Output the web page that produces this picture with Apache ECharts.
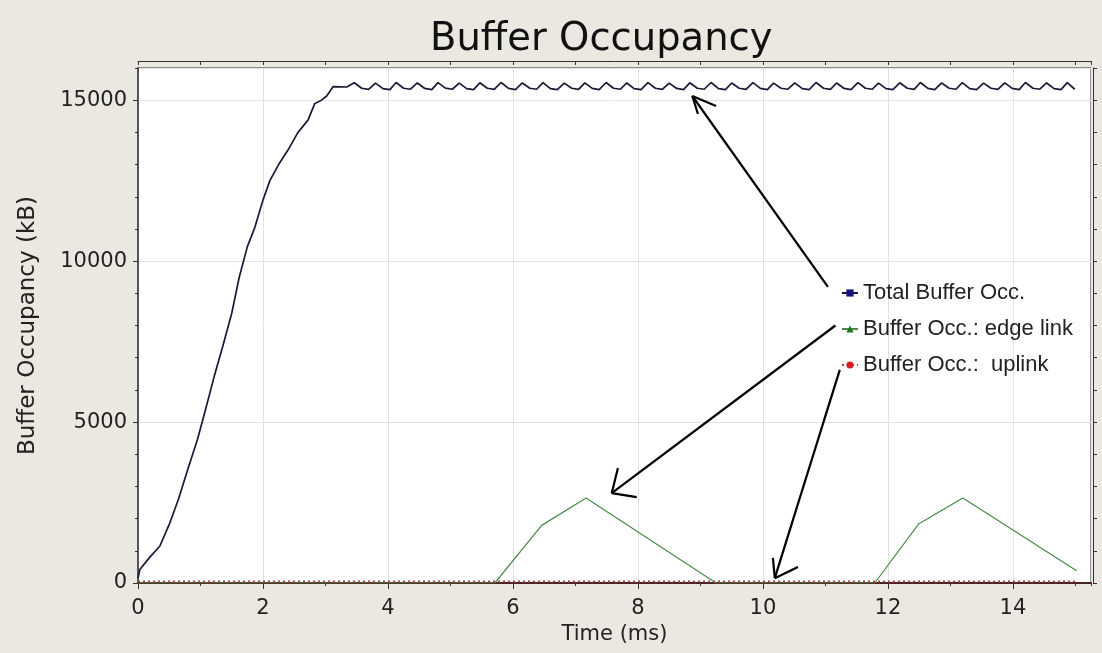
<!DOCTYPE html>
<html>
<head>
<meta charset="utf-8">
<title>Buffer Occupancy</title>
<script src="https://cdn.jsdelivr.net/npm/echarts@6/dist/echarts.min.js"></script>
<style>
  html, body { margin: 0; padding: 0; background: #ebe8e2; }
  #chart { width: 1102px; height: 653px; }
</style>
</head>
<body>
<div id="chart"></div>
<script>
// Series names as shown in the legend
const seriesNames = ['Total Buffer Occ.', 'Buffer Occ.: edge link', 'Buffer Occ.:  uplink'];

// Total buffer occupancy: [time (ms), kB]
const totalOcc = [
  [0.00, 150], [0.03, 420], [0.18, 780], [0.35, 1150], [0.50, 1820], [0.65, 2620],
  [0.80, 3550], [0.95, 4450], [1.08, 5380], [1.22, 6420], [1.36, 7380], [1.50, 8380],
  [1.62, 9500], [1.75, 10450], [1.87, 11050], [2.00, 11900], [2.11, 12500], [2.25, 13000],
  [2.40, 13450], [2.56, 14000], [2.72, 14380], [2.83, 14900], [2.92, 14980], [3.02, 15130],
  [3.12, 15420], [3.34, 15410],
  [3.46, 15540], [3.58, 15370], [3.69, 15335],
  [3.80, 15530], [3.92, 15360], [4.03, 15330],
  [4.13, 15550], [4.25, 15370], [4.36, 15340],
  [4.47, 15535], [4.59, 15365], [4.70, 15330],
  [4.80, 15545], [4.92, 15375], [5.03, 15340],
  [5.14, 15530], [5.26, 15360], [5.37, 15330],
  [5.47, 15540], [5.59, 15370], [5.70, 15335],
  [5.81, 15550], [5.93, 15365], [6.04, 15330],
  [6.15, 15535], [6.27, 15370], [6.38, 15340],
  [6.48, 15545], [6.60, 15360], [6.71, 15330],
  [6.82, 15530], [6.94, 15370], [7.05, 15335],
  [7.15, 15540], [7.27, 15365], [7.38, 15330],
  [7.49, 15550], [7.61, 15370], [7.72, 15340],
  [7.82, 15535], [7.94, 15360], [8.05, 15330],
  [8.16, 15545], [8.28, 15370], [8.39, 15335],
  [8.50, 15530], [8.62, 15365], [8.73, 15330],
  [8.83, 15540], [8.95, 15370], [9.06, 15340],
  [9.17, 15550], [9.29, 15360], [9.40, 15330],
  [9.50, 15535], [9.62, 15370], [9.73, 15335],
  [9.84, 15545], [9.96, 15365], [10.07, 15330],
  [10.17, 15530], [10.29, 15370], [10.40, 15340],
  [10.51, 15540], [10.63, 15360], [10.74, 15330],
  [10.85, 15550], [10.97, 15370], [11.08, 15335],
  [11.18, 15535], [11.30, 15365], [11.41, 15330],
  [11.52, 15545], [11.64, 15370], [11.75, 15340],
  [11.85, 15530], [11.97, 15360], [12.08, 15330],
  [12.19, 15540], [12.31, 15370], [12.42, 15335],
  [12.52, 15550], [12.64, 15365], [12.75, 15330],
  [12.86, 15535], [12.98, 15370], [13.09, 15340],
  [13.19, 15545], [13.31, 15360], [13.42, 15330],
  [13.53, 15530], [13.65, 15370], [13.76, 15335],
  [13.87, 15540], [13.99, 15365], [14.10, 15330],
  [14.20, 15550], [14.32, 15370], [14.43, 15340],
  [14.54, 15535], [14.66, 15360], [14.77, 15330],
  [14.87, 15545], [14.99, 15340]
];

// Edge-link buffer occupancy: [time (ms), kB]
const edgeOcc = [
  [0.00, 0], [5.71, 0], [6.46, 1790], [7.17, 2640], [9.25, 0],
  [11.79, 0], [12.49, 1830], [13.20, 2640], [15.02, 380]
];

// Uplink buffer occupancy: [time (ms), kB]
const uplinkOcc = [
  [0.00, 50], [2.50, 50], [5.00, 50], [7.50, 50], [10.00, 50], [12.50, 50], [15.02, 50]
];

// Annotation arrows in data space: shaft start -> tip, plus the two head strokes
const arrowShafts = [
  [[11.04, 9200], [8.87, 15130]],
  [[11.16, 8000], [7.58, 2790]],
  [[11.23, 6620], [10.19, 150]]
];
const arrowHeads = [
  [[8.87, 15130], [9.25, 14820]], [[8.87, 15130], [8.96, 14570]],
  [[7.58, 2790], [7.98, 2670]], [[7.58, 2790], [7.68, 3570]],
  [[10.19, 150], [10.56, 500]], [[10.19, 150], [10.16, 780]]
];

const X_MIN = 0, X_MAX = 15.25, Y_MIN = 0, Y_MAX = 16000;

const labelFont = 'DejaVu Sans';
const axisDark = '#333';

const chart = echarts.init(document.getElementById('chart'), null, { renderer: 'canvas' });

function plainXAxis(extra) {
  return Object.assign({
    type: 'value', min: X_MIN, max: X_MAX,
    axisLine: { show: false, onZero: false },
    axisLabel: { show: false },
    splitLine: { show: false },
    axisTick: { show: false }
  }, extra);
}
function plainYAxis(extra) {
  return Object.assign({
    type: 'value', min: Y_MIN, max: Y_MAX,
    axisLine: { show: false, onZero: false },
    axisLabel: { show: false },
    splitLine: { show: false },
    axisTick: { show: false }
  }, extra);
}

const markLines = arrowShafts.concat(arrowHeads).map(seg => [
  { coord: seg[0] }, { coord: seg[1] }
]);

const option = {
  backgroundColor: '#ebe8e2',
  animation: false,
  title: {
    text: 'Buffer Occupancy',
    left: 425, top: 15,
    textStyle: { fontFamily: labelFont, fontSize: 38.5, fontWeight: 'normal', color: '#111' }
  },
  grid: {
    left: 138, right: 11, top: 68, bottom: 70,
    show: true, backgroundColor: '#ffffff', borderColor: axisDark, borderWidth: 1
  },
  legend: {
    orient: 'vertical',
    left: 836, top: 277,
    itemWidth: 16, itemHeight: 9, itemGap: 14,
    data: seriesNames,
    textStyle: { fontFamily: 'Liberation Sans', fontSize: 22, color: '#222' }
  },
  xAxis: [
    {
      type: 'value', min: X_MIN, max: X_MAX, interval: 2, position: 'bottom',
      name: 'Time (ms)', nameLocation: 'middle', nameGap: 39,
      nameTextStyle: { fontFamily: labelFont, fontSize: 21, color: '#222' },
      axisLine: { show: true, onZero: false, lineStyle: { color: '#4a2222', width: 2 } },
      axisTick: { show: true, inside: false, length: 6, lineStyle: { color: axisDark } },
      axisLabel: { show: true, margin: 15, showMaxLabel: false,
        fontFamily: labelFont, fontSize: 21, color: '#222',
        formatter: v => String(v) },
      splitLine: { show: true, lineStyle: { color: '#e2e2e2', width: 1 } }
    },
    plainXAxis({ interval: 1, position: 'bottom',
      axisTick: { show: true, inside: false, length: 3, lineStyle: { color: axisDark } } }),
    plainXAxis({ interval: 1, position: 'top', offset: 7,
      axisLine: { show: true, onZero: false, lineStyle: { color: axisDark, width: 1 } },
      axisTick: { show: true, inside: true, length: 4, lineStyle: { color: axisDark } } })
  ],
  yAxis: [
    {
      type: 'value', min: Y_MIN, max: Y_MAX, interval: 5000, position: 'left',
      name: 'Buffer Occupancy (kB)', nameLocation: 'middle', nameGap: 98,
      nameTextStyle: { fontFamily: labelFont, fontSize: 23, color: '#222' },
      axisLine: { show: true, onZero: false, lineStyle: { color: '#555', width: 2 } },
      axisTick: { show: true, inside: false, length: 5, lineStyle: { color: axisDark } },
      axisLabel: { show: true, margin: 11, showMaxLabel: false,
        fontFamily: labelFont, fontSize: 21, color: '#222',
        formatter: v => String(v) },
      splitLine: { show: true, lineStyle: { color: '#e2e2e2', width: 1 } }
    },
    plainYAxis({ interval: 1000, position: 'left',
      axisTick: { show: true, inside: false, length: 3, lineStyle: { color: axisDark } } }),
    plainYAxis({ interval: 1000, position: 'right', offset: 2,
      axisLine: { show: true, onZero: false, lineStyle: { color: axisDark, width: 1 } },
      axisTick: { show: true, inside: false, length: 4, lineStyle: { color: axisDark } } })
  ],
  series: [
    {
      name: seriesNames[0], type: 'line', data: totalOcc,
      symbol: 'rect', symbolSize: 7, showSymbol: false,
      itemStyle: { color: '#14147a' },
      lineStyle: { color: '#1a1a36', width: 1.7 },
      z: 3,
      markLine: {
        silent: true, symbol: ['none', 'none'], animation: false,
        label: { show: false },
        lineStyle: { color: '#000', width: 2.2, type: 'solid' },
        emphasis: { disabled: true },
        data: markLines
      }
    },
    {
      name: seriesNames[1], type: 'line', data: edgeOcc,
      symbol: 'triangle', symbolSize: 9, showSymbol: false,
      itemStyle: { color: '#1f7a1f' },
      lineStyle: { color: '#4a8a4a', width: 1.2 },
      z: 2
    },
    {
      name: seriesNames[2], type: 'line', data: uplinkOcc,
      symbol: 'circle', symbolSize: 9, showSymbol: false,
      itemStyle: { color: '#d42020' },
      lineStyle: { color: '#a04848', width: 2, type: [2, 3] },
      z: 4
    }
  ]
};

chart.setOption(option);
</script>
</body>
</html>
